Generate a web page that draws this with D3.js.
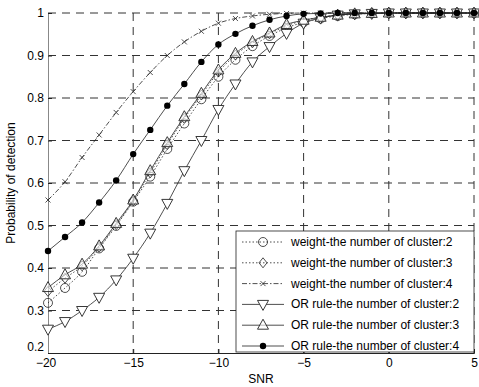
<!DOCTYPE html>
<html><head><meta charset="utf-8">
<script src="https://cdn.jsdelivr.net/npm/d3@7"></script>
<style>body{margin:0;background:#fff}text{font-family:Arial,"Liberation Sans",sans-serif}</style>
</head><body><svg id="c" width="479" height="387"></svg>
<script>
const snr = [-20,-19,-18,-17,-16,-15,-14,-13,-12,-11,-10,-9,-8,-7,-6,-5,-4,-3,-2,-1,0,1,2,3,4,5];
const weight2 = [0.318,0.353,0.391,0.446,0.499,0.556,0.615,0.680,0.740,0.797,0.850,0.890,0.922,0.946,0.965,0.978,0.987,0.993,0.997,0.999,1,1,1,1,1,1];
const weight3 = [0.345,0.376,0.405,0.449,0.502,0.558,0.624,0.690,0.752,0.807,0.861,0.901,0.930,0.951,0.970,0.982,0.990,0.995,0.998,0.999,1,1,1,1,1,1];
const weight4 = [0.560,0.603,0.660,0.713,0.766,0.815,0.860,0.900,0.932,0.957,0.976,0.987,0.993,0.997,0.999,1,1,1,1,1,1,1,1,1,1,1];
const or2 = [0.256,0.274,0.300,0.331,0.372,0.423,0.482,0.552,0.629,0.700,0.773,0.833,0.885,0.921,0.952,0.976,0.988,0.995,0.998,0.999,1,1,1,1,1,1];
const or3 = [0.354,0.384,0.409,0.452,0.505,0.560,0.629,0.695,0.756,0.811,0.866,0.905,0.933,0.953,0.973,0.983,0.990,0.995,0.998,0.999,1,1,1,1,1,1];
const or4 = [0.440,0.473,0.507,0.554,0.606,0.668,0.725,0.782,0.833,0.885,0.926,0.951,0.970,0.984,0.993,0.998,0.999,1,1,1,1,1,1,1,1,1];
const xTicks = [-20,-15,-10,-5,0,5];
const yTicks = [0.2,0.3,0.4,0.5,0.6,0.7,0.8,0.9,1];
const labels = ["weight-the number of cluster:2","weight-the number of cluster:3","weight-the number of cluster:4","OR rule-the number of cluster:2","OR rule-the number of cluster:3","OR rule-the number of cluster:4"];

const series = [
  {name:labels[0], v:weight2, dash:"1.5,2", mk:"circle"},
  {name:labels[1], v:weight3, dash:"1.5,2", mk:"diamond"},
  {name:labels[2], v:weight4, dash:"5,2,1.5,2", mk:"x"},
  {name:labels[3], v:or2, dash:null, mk:"tdown"},
  {name:labels[4], v:or3, dash:null, mk:"tup"},
  {name:labels[5], v:or4, dash:null, mk:"dot"}
];

const L=48,R=474,T=13,B=353;
const svg=d3.select("#c");
const x=d3.scaleLinear().domain([-20,5]).range([L,R]);
const y=d3.scaleLinear().domain([0.2,1]).range([B,T]);
const ink="#222";

// grid
const g=svg.append("g");
g.selectAll(".gx").data(xTicks.slice(1)).join("line")
 .attr("x1",d=>x(d)).attr("x2",d=>x(d)).attr("y1",T).attr("y2",B)
 .attr("stroke","#333").attr("stroke-dasharray","8,6");
g.selectAll(".gy").data(yTicks.slice(1)).join("line")
 .attr("x1",L).attr("x2",R).attr("y1",d=>y(d)).attr("y2",d=>y(d))
 .attr("stroke","#333").attr("stroke-dasharray","8,6");

// axes
const xa=svg.append("g").attr("transform",`translate(0,${B})`)
 .call(d3.axisBottom(x).tickValues(xTicks).tickSize(-4).tickPadding(5).tickFormat(d3.format("d")));
const ya=svg.append("g").attr("transform",`translate(${L},0)`)
 .call(d3.axisLeft(y).tickValues(yTicks).tickSize(-4).tickPadding(4).tickFormat(d=>d===1?"1":d3.format(".1f")(d)));
[xa,ya].forEach(a=>{a.select(".domain").attr("stroke","#222");a.selectAll("line").attr("stroke","#222");
 a.selectAll("text").attr("fill","#000").style("font-size","12px").style("font-family","Arial, 'Liberation Sans', sans-serif");});
ya.select(".domain").attr("stroke","#888");
ya.selectAll(".tick text").filter(d=>d===0.2).attr("dy","-0.2em");
xa.selectAll(".tick text").filter(d=>d===-20).attr("dx","-0.2em");

svg.append("text").attr("x",(L+R)/2).attr("y",383).attr("text-anchor","middle").style("font-size","12px").text("SNR");
svg.append("text").attr("transform",`translate(15,${(T+B)/2}) rotate(-90)`).attr("text-anchor","middle").style("font-size","12px").text("Probability of detection");

function marker(sel,type,cx,cy){
  const s=sel.append("g").attr("transform",`translate(${cx},${cy})`);
  if(type==="circle") s.append("circle").attr("r",4.5).attr("fill","none").attr("stroke",ink).attr("stroke-width",0.8);
  if(type==="diamond") s.append("path").attr("d","M0,-5L4,0L0,5L-4,0Z").attr("fill","none").attr("stroke",ink).attr("stroke-width",0.8);
  if(type==="x") s.append("path").attr("d","M-2.5,-2.5L2.5,2.5M-2.5,2.5L2.5,-2.5").attr("stroke",ink).attr("stroke-width",0.8);
  if(type==="tdown") s.append("path").attr("d","M-5.5,-4L5.5,-4L0,6Z").attr("fill","#fff").attr("stroke",ink).attr("stroke-width",0.9);
  if(type==="tup") s.append("path").attr("d","M-5.5,4L5.5,4L0,-6Z").attr("fill","#fff").attr("fill-opacity",0.6).attr("stroke",ink).attr("stroke-width",0.9);
  if(type==="dot") s.append("circle").attr("r",3.2).attr("fill","#000");
}

const line=d3.line().x((d,i)=>x(snr[i])).y(d=>y(d)).curve(d3.curveMonotoneX);
const plot=svg.append("g");
series.forEach(s=>{
  plot.append("path").attr("d",line(s.v)).attr("fill","none").attr("stroke",ink)
   .attr("stroke-width",0.8).attr("stroke-dasharray",s.dash);
});
series.forEach(s=>{
  s.v.forEach((v,i)=>marker(plot,s.mk,x(snr[i]),y(v)));
});

// legend
const lx=236, ly=231, lw=238, lh=121;
const lg=svg.append("g");
lg.append("rect").attr("x",lx).attr("y",ly).attr("width",lw).attr("height",lh).attr("fill","#fff").attr("stroke","#222").attr("stroke-width",0.8);
series.forEach((s,i)=>{
  const yy=ly+11+i*20.8;
  lg.append("line").attr("x1",lx+6).attr("x2",lx+48).attr("y1",yy).attr("y2",yy).attr("stroke",ink).attr("stroke-width",0.8).attr("stroke-dasharray",s.dash);
  marker(lg,s.mk,lx+27,yy);
  lg.append("text").attr("x",lx+55).attr("y",yy+4).style("font-size","12px").text(s.name);
});
</script></body></html>
